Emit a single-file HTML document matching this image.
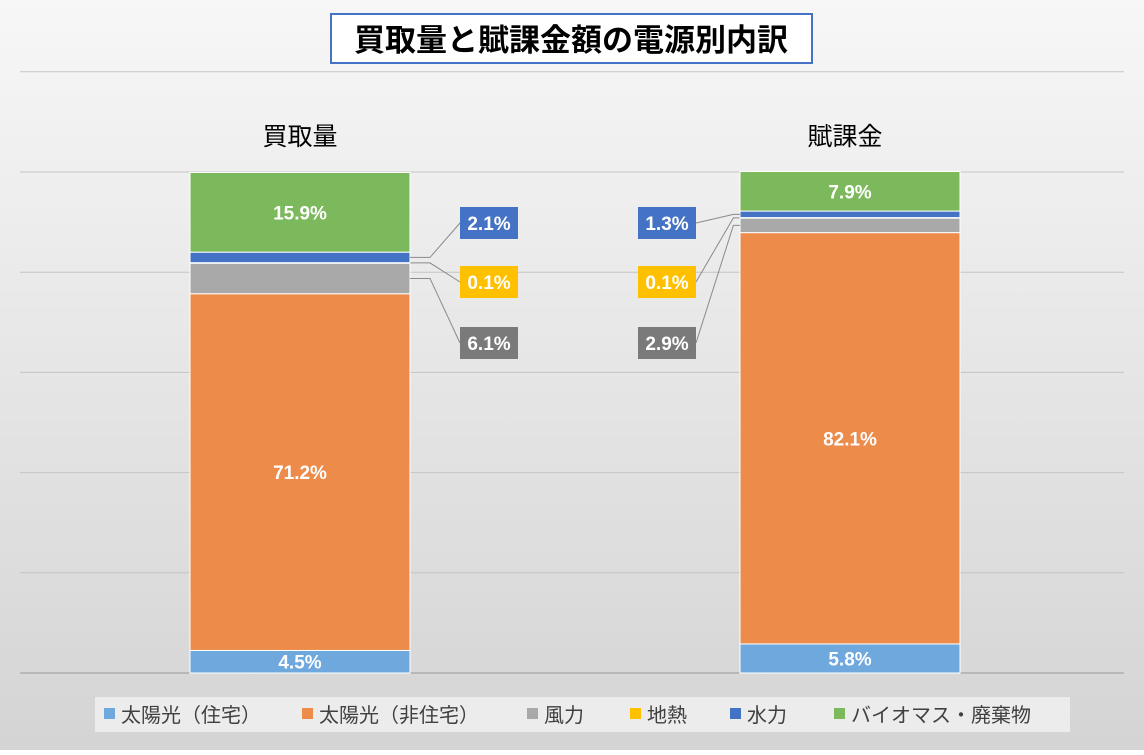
<!DOCTYPE html>
<html><head><meta charset="utf-8"><style>
body{margin:0;width:1144px;height:750px;overflow:hidden;font-family:"Liberation Sans","Noto Sans CJK JP",sans-serif}
</style></head><body>
<svg id="c" width="1144" height="750" xmlns="http://www.w3.org/2000/svg">
<defs><linearGradient id="bg" x1="0" y1="0" x2="0" y2="1"><stop offset="0" stop-color="#f7f7f7"/><stop offset="1" stop-color="#d4d4d4"/></linearGradient></defs>
<rect width="1144" height="750" fill="url(#bg)"/>
<g id="grid"></g>
<rect x="331" y="14" width="481" height="49" fill="#fff" stroke="#4472c4" stroke-width="2"/>
<text x="571" y="51" text-anchor="middle" font-size="31" font-weight="bold" fill="#000">買取量と賦課金額の電源別内訳</text>
<g id="bars"></g>
<rect x="95" y="697" width="975" height="35" fill="#ececec"/>
<g id="legend"></g>
</svg>
<script>
const categories=["買取量","賦課金"];
const seriesNames=["太陽光（住宅）","太陽光（非住宅）","風力","地熱","水力","バイオマス・廃棄物"];
const colors=["#6fa8dc","#ec8b4a","#a9a9a9","#ffc000","#4472c4","#7cb85c"];
const solarHome=[4.5,5.8];
const solarNonHome=[71.2,82.1];
const wind=[6.1,2.9];
const geo=[0.1,0.1];
const hydro=[2.1,1.3];
const biomass=[15.9,7.9];
const series=[solarHome,solarNonHome,wind,geo,hydro,biomass];
const yTicks=[0,20,40,60,80,100,120];
const NS="http://www.w3.org/2000/svg";
const y0=673,y100=172;
const yS=v=>y0-(v/100)*(y0-y100);
const barX=[190,740],barW=220;
function el(t,a,p){const e=document.createElementNS(NS,t);for(const k in a)e.setAttribute(k,a[k]);p.appendChild(e);return e;}
const grid=document.getElementById('grid');
yTicks.forEach(t=>{const l=el('line',{x1:20,x2:1124,y1:yS(t),y2:yS(t),stroke:t===0?'#999':'#c4c4c4','stroke-width':1},grid);

});
const bars=document.getElementById('bars');
const calloutX=[[460,518],[638,696]];
const calloutY=[343,282,223];
categories.forEach((c,i)=>{
  const t=el('text',{x:barX[i]+barW/2-(i?5:0),y:145,'text-anchor':'middle','font-size':25,fill:'#000'},bars);t.textContent=c;
  
  
  let cum=0;
  series.forEach((s,j)=>{
    const v=s[i],yt=yS(cum+v),yb=yS(cum);
    const r=el('rect',{x:barX[i],y:yt,width:barW,height:Math.max(yb-yt,0.5),fill:colors[j],stroke:'#fff','stroke-width':1},bars);
    
    
    const lab=v.toFixed(1)+'%';
    if(j===0||j===1||j===5){
      const tx=el('text',{x:barX[i]+barW/2,y:(yt+yb)/2+7,'text-anchor':'middle','font-size':19,'font-weight':'bold',fill:'#fff'},bars);tx.textContent=lab;
      
      
    } else {
      const cy=calloutY[j-2],bx=calloutX[i][0],bw=58;
      const ex=i===0?barX[i]+barW:barX[i],ey=(yt+yb)/2;
      const lx=i===0?bx:bx+bw;
      const kx=i===0?ex+(bx-ex)*0.4:ex-(ex-lx)*0.15;
      const ln=el('polyline',{points:`${ex},${ey} ${kx},${ey} ${lx},${cy}`,fill:'none',stroke:'#8a8a8a','stroke-width':1},bars);
      
      
      const b=el('rect',{x:bx,y:cy-16,width:bw,height:32,fill:j===2?'#7a7a7a':colors[j]},bars);
      
      
      const tx=el('text',{x:bx+bw/2,y:cy+7,'text-anchor':'middle','font-size':19,'font-weight':'bold',fill:'#fff'},bars);tx.textContent=lab;
      
      
    }
    cum+=v;
  });
});
const lg=document.getElementById('legend');
const lx=[104,302,527,630,730,834];
seriesNames.forEach((n,j)=>{
  const r=el('rect',{x:lx[j],y:708,width:11,height:11,fill:colors[j]},lg);
  
  
  const t=el('text',{x:lx[j]+17,y:722,'font-size':20,fill:'#404040'},lg);t.textContent=n;
  
  
});
</script>
</body></html>
